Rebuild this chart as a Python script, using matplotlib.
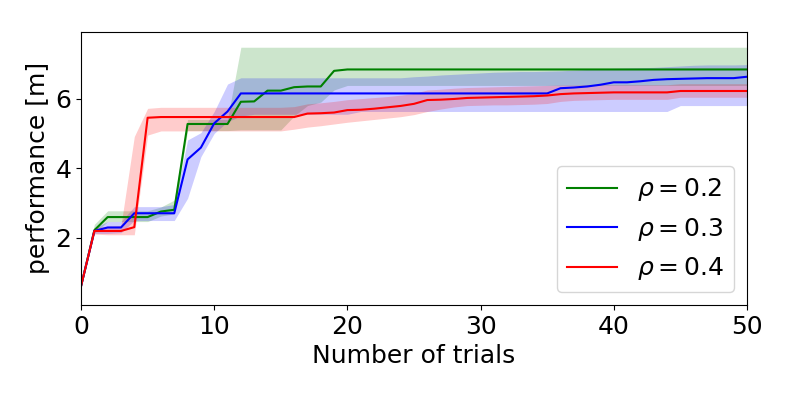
import matplotlib
matplotlib.use("Agg")
import matplotlib.pyplot as plt
import numpy as np

# x axis: trial number 0..50
trials = np.arange(0, 51)

# rho = 0.2 (green)
green_mean = [0.60, 2.21, 2.59, 2.59, 2.59, 2.59, 2.75, 2.80, 5.27, 5.27,
              5.27, 5.27, 5.91, 5.92, 6.23, 6.23, 6.33, 6.35, 6.35, 6.80,
              6.84, 6.84, 6.84, 6.84, 6.84, 6.84, 6.84, 6.84, 6.84, 6.84,
              6.84, 6.84, 6.84, 6.84, 6.84, 6.84, 6.84, 6.84, 6.84, 6.84,
              6.84, 6.84, 6.84, 6.84, 6.84, 6.84, 6.84, 6.84, 6.84, 6.84,
              6.84]
green_low = [0.57, 2.13, 2.46, 2.46, 2.46, 2.46, 2.62, 2.68, 5.08, 5.08,
             5.08, 5.08, 5.10, 5.10, 5.10, 5.10, 5.50, 5.80, 5.90, 6.25,
             6.38, 6.38, 6.38, 6.38, 6.38, 6.38, 6.38, 6.38, 6.38, 6.38,
             6.38, 6.38, 6.38, 6.38, 6.38, 6.38, 6.38, 6.38, 6.38, 6.38,
             6.38, 6.38, 6.38, 6.38, 6.38, 6.38, 6.38, 6.38, 6.38, 6.38,
             6.38]
green_high = [0.63, 2.38, 2.77, 2.77, 2.77, 2.77, 2.88, 3.08, 5.40, 5.40,
              5.40, 5.40, 7.48, 7.48, 7.48, 7.48, 7.48, 7.48, 7.48, 7.48,
              7.48, 7.48, 7.48, 7.48, 7.48, 7.48, 7.48, 7.48, 7.48, 7.48,
              7.48, 7.48, 7.48, 7.48, 7.48, 7.48, 7.48, 7.48, 7.48, 7.48,
              7.48, 7.48, 7.48, 7.48, 7.48, 7.48, 7.48, 7.48, 7.48, 7.48,
              7.48]

# rho = 0.3 (blue)
blue_mean = [0.60, 2.19, 2.29, 2.29, 2.70, 2.70, 2.70, 2.70, 4.25, 4.59,
             5.29, 5.63, 6.15, 6.15, 6.15, 6.15, 6.15, 6.15, 6.15, 6.15,
             6.15, 6.15, 6.15, 6.15, 6.15, 6.15, 6.15, 6.15, 6.15, 6.15,
             6.15, 6.15, 6.15, 6.15, 6.15, 6.15, 6.30, 6.32, 6.35, 6.40,
             6.47, 6.47, 6.50, 6.54, 6.56, 6.57, 6.58, 6.59, 6.59, 6.59,
             6.63]
blue_low = [0.57, 2.12, 2.12, 2.14, 2.49, 2.49, 2.49, 2.49, 3.13, 4.33,
            5.00, 5.34, 5.50, 5.55, 5.55, 5.55, 5.55, 5.55, 5.55, 5.55,
            5.55, 5.63, 5.63, 5.63, 5.63, 5.63, 5.63, 5.63, 5.63, 5.63,
            5.63, 5.63, 5.63, 5.63, 5.63, 5.63, 5.63, 5.63, 5.63, 5.63,
            5.63, 5.63, 5.63, 5.63, 5.63, 5.80, 5.80, 5.80, 5.80, 5.80,
            5.80]
blue_high = [0.63, 2.28, 2.46, 2.46, 2.89, 2.89, 2.89, 2.95, 4.81, 5.02,
             5.63, 6.42, 6.60, 6.60, 6.60, 6.60, 6.60, 6.60, 6.60, 6.60,
             6.60, 6.60, 6.60, 6.60, 6.60, 6.63, 6.65, 6.68, 6.70, 6.72,
             6.74, 6.76, 6.77, 6.78, 6.78, 6.79, 6.80, 6.82, 6.84, 6.86,
             6.87, 6.88, 6.89, 6.90, 6.92, 6.94, 6.96, 6.97, 6.97, 6.97,
             6.98]

# rho = 0.4 (red)
red_mean = [0.60, 2.19, 2.19, 2.19, 2.30, 5.45, 5.47, 5.47, 5.47, 5.47,
            5.47, 5.47, 5.47, 5.47, 5.47, 5.47, 5.47, 5.57, 5.58, 5.60,
            5.67, 5.68, 5.71, 5.75, 5.79, 5.85, 5.96, 5.97, 5.99, 6.02,
            6.03, 6.04, 6.05, 6.06, 6.07, 6.09, 6.13, 6.15, 6.16, 6.17,
            6.18, 6.18, 6.18, 6.18, 6.18, 6.22, 6.22, 6.22, 6.22, 6.22,
            6.22]
red_low = [0.57, 2.10, 2.08, 2.08, 2.08, 4.95, 5.07, 5.07, 5.07, 5.07,
           5.07, 5.07, 5.07, 5.07, 5.07, 5.07, 5.12, 5.18, 5.22, 5.27,
           5.32, 5.36, 5.40, 5.44, 5.48, 5.54, 5.63, 5.70, 5.76, 5.80,
           5.81, 5.82, 5.82, 5.83, 5.84, 5.86, 5.92, 5.95, 5.96, 5.97,
           5.98, 5.98, 5.98, 5.98, 5.98, 6.04, 6.04, 6.04, 6.04, 6.04,
           6.04]
red_high = [0.63, 2.28, 2.33, 2.35, 4.91, 5.72, 5.75, 5.75, 5.75, 5.75,
            5.75, 5.75, 5.75, 5.75, 5.75, 5.75, 5.77, 5.85, 5.88, 5.92,
            5.97, 6.00, 6.03, 6.06, 6.10, 6.15, 6.25, 6.27, 6.30, 6.32,
            6.33, 6.34, 6.35, 6.36, 6.37, 6.38, 6.39, 6.39, 6.40, 6.40,
            6.40, 6.40, 6.40, 6.40, 6.40, 6.43, 6.43, 6.43, 6.43, 6.43,
            6.43]

series = [
    ("green", r"$\rho = 0.2$", green_mean, green_low, green_high),
    ("blue", r"$\rho = 0.3$", blue_mean, blue_low, blue_high),
    ("red", r"$\rho = 0.4$", red_mean, red_low, red_high),
]

plt.rcParams["font.size"] = 18

fig = plt.figure(figsize=(7.89, 3.95), dpi=100)
ax = fig.add_axes([0.1027, 0.228, 0.844, 0.692])

for color, label, mean, low, high in series:
    ax.plot(trials, mean, color=color, linewidth=1.5, label=label)
    ax.fill_between(trials, low, high, color=color, alpha=0.2, linewidth=0)

ax.set_xlim(0, 50)
ax.set_ylim(0.06, 7.93)
ax.set_yticks([2, 4, 6])
ax.set_xlabel("Number of trials")
ax.set_ylabel("performance [m]")
ax.legend(loc="lower right")

fig.savefig("out.png", dpi=100)
